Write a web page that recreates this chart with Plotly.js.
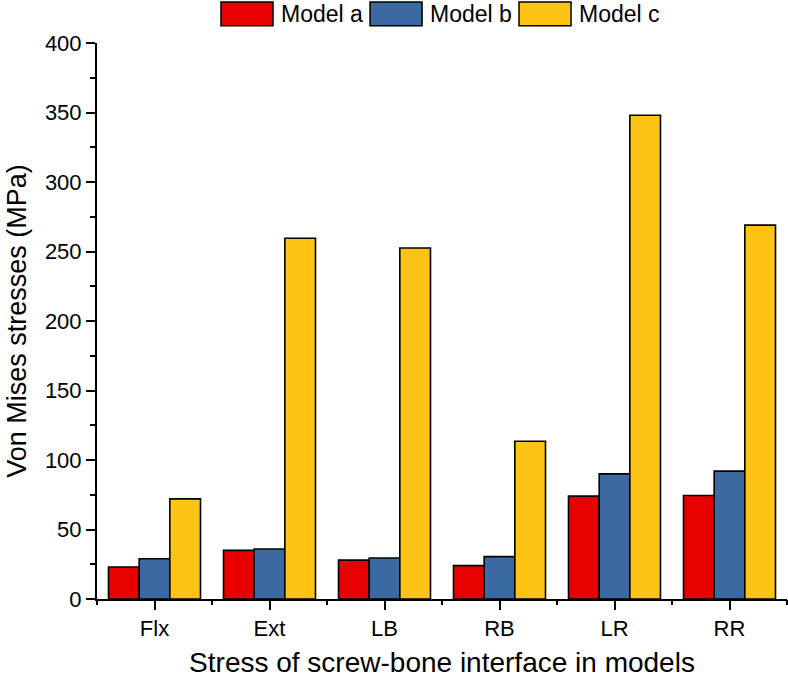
<!DOCTYPE html>
<html>
<head>
<meta charset="utf-8">
<script src="https://cdn.plot.ly/plotly-3.0.1.min.js"></script>
<style>html,body{margin:0;padding:0;background:#fff;}#chart{width:788px;height:681px;}</style>
</head>
<body>
<div id="chart"></div>
<script>
const categories = ["Flx", "Ext", "LB", "RB", "LR", "RR"];
const seriesNames = ["Model a", "Model b", "Model c"];
const modelA = [23, 35, 28, 24, 74, 74.5];
const modelB = [29, 36, 29.5, 30.5, 90, 92];
const modelC = [72, 259.5, 252.5, 113.5, 348, 269];
const colors = ["#e80000", "#3b6aa3", "#fec415"];
const yTicks = [0, 50, 100, 150, 200, 250, 300, 350, 400];

const font = "Liberation Sans, Arial, sans-serif";
const series = [modelA, modelB, modelC];
const traces = series.map((vals, i) => ({
  type: "bar",
  name: seriesNames[i],
  x: categories,
  y: vals,
  marker: {color: colors[i], line: {color: "#000", width: 1.6}},
  showlegend: false,
  hoverinfo: "x+y+name"
}));
// helper trace so the overlay axis draws boundary ticks
traces.push({
  type: "scatter", mode: "markers", x: categories, y: categories.map(() => null),
  xaxis: "x2", showlegend: false, hoverinfo: "skip", marker: {opacity: 0}
});

// custom legend (large swatches like the original)
const legendX = [0.1797, 0.3957, 0.6116];
const swW = 0.0754;
const shapes = [];
const annotations = [];
seriesNames.forEach((n, i) => {
  shapes.push({
    type: "rect", xref: "paper", yref: "paper",
    x0: legendX[i], x1: legendX[i] + swW, y0: 1.031, y1: 1.0737,
    fillcolor: colors[i], line: {color: "#000", width: 1.5}
  });
  annotations.push({
    xref: "paper", yref: "paper", x: legendX[i] + swW + 0.009, y: 1.052,
    xanchor: "left", yanchor: "middle", showarrow: false,
    text: n, font: {size: 23, family: font, color: "#000"}
  });
});

const layout = {
  width: 788, height: 681,
  margin: {l: 97, r: 1, t: 43, b: 82},
  paper_bgcolor: "#fff", plot_bgcolor: "#fff",
  barmode: "group",
  bargap: 0.2, bargroupgap: 0,
  font: {family: font, color: "#000"},
  showlegend: false,
  shapes: shapes,
  annotations: annotations,
  xaxis: {
    type: "category", range: [-0.5, 5.5],
    showline: true, linecolor: "#000", linewidth: 2,
    ticks: "outside", ticklen: 9, tickwidth: 2, tickcolor: "#000",
    tickfont: {size: 22, family: font},
    showgrid: false, zeroline: false,
    title: {text: "Stress of screw-bone interface in models", font: {size: 28, family: font}, standoff: 12}
  },
  xaxis2: {
    type: "category", overlaying: "x", range: [-0.5, 5.5],
    tickson: "boundaries", ticks: "outside", ticklen: 5, tickwidth: 2, tickcolor: "#000",
    showticklabels: false, showgrid: false, showline: false, zeroline: false,
    side: "bottom", anchor: "y"
  },
  yaxis: {
    range: [0, 400], tickvals: yTicks, ticktext: yTicks.map(String),
    showline: true, linecolor: "#000", linewidth: 2,
    ticks: "outside", ticklen: 9, tickwidth: 2, tickcolor: "#000",
    minor: {dtick: 25, tick0: 0, ticks: "outside", ticklen: 5, tickwidth: 2, tickcolor: "#000", showgrid: false},
    tickfont: {size: 22, family: font},
    showgrid: false, zeroline: false,
    title: {text: "Von Mises stresses (MPa)", font: {size: 27, family: font}, standoff: 10}
  }
};
Plotly.newPlot("chart", traces, layout, {displayModeBar: false, staticPlot: true});
</script>
</body>
</html>
